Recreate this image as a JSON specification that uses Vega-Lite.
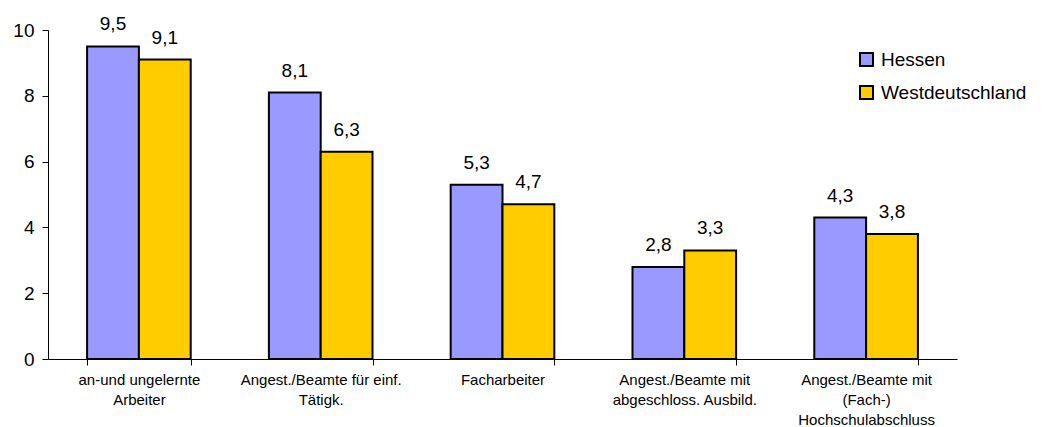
{
  "$schema": "https://vega.github.io/schema/vega-lite/v6.json",
  "width": 909,
  "height": 329,
  "autosize": {"type": "none"},
  "padding": {"left": 48, "top": 30, "right": 87, "bottom": 68},
  "config": {
    "view": {"stroke": null},
    "font": "Liberation Sans",
    "locale": {"number": {"decimal": ",", "thousands": ".", "grouping": [3], "currency": ["", " €"]}}
  },
  "data": {
    "values": [
      {"cat": "an-und ungelernte|Arbeiter", "region": "Hessen", "value": 9.5},
      {"cat": "an-und ungelernte|Arbeiter", "region": "Westdeutschland", "value": 9.1},
      {"cat": "Angest./Beamte für einf.|Tätigk.", "region": "Hessen", "value": 8.1},
      {"cat": "Angest./Beamte für einf.|Tätigk.", "region": "Westdeutschland", "value": 6.3},
      {"cat": "Facharbeiter", "region": "Hessen", "value": 5.3},
      {"cat": "Facharbeiter", "region": "Westdeutschland", "value": 4.7},
      {"cat": "Angest./Beamte mit|abgeschloss. Ausbild.", "region": "Hessen", "value": 2.8},
      {"cat": "Angest./Beamte mit|abgeschloss. Ausbild.", "region": "Westdeutschland", "value": 3.3},
      {"cat": "Angest./Beamte mit|(Fach-)|Hochschulabschluss", "region": "Hessen", "value": 4.3},
      {"cat": "Angest./Beamte mit|(Fach-)|Hochschulabschluss", "region": "Westdeutschland", "value": 3.8}
    ]
  },
  "encoding": {
    "x": {
      "field": "cat", "type": "nominal", "sort": null,
      "scale": {"paddingInner": 0.43, "paddingOuter": 0.215},
      "axis": {
        "title": null, "labelAngle": 0, "labelExpr": "split(datum.label, '|')",
        "labelFontSize": 15, "labelColor": "black", "labelBaseline": "top", "labelLineHeight": 20,
        "labelPadding": 7, "domainColor": "black", "tickColor": "black", "tickBand": "extent",
        "tickSize": 6, "labelLimit": 300
      }
    },
    "xOffset": {"field": "region", "sort": ["Hessen", "Westdeutschland"]},
    "y": {
      "field": "value", "type": "quantitative",
      "scale": {"domain": [0, 10]},
      "axis": {
        "title": null, "values": [0, 2, 4, 6, 8, 10], "grid": false,
        "labelFontSize": 19, "labelColor": "black", "labelPadding": 8,
        "domainColor": "black", "tickColor": "black", "tickSize": 6
      }
    }
  },
  "layer": [
    {
      "mark": {"type": "bar", "stroke": "black", "strokeWidth": 2},
      "encoding": {
        "fill": {
          "field": "region", "type": "nominal",
          "scale": {"domain": ["Hessen", "Westdeutschland"], "range": ["#9999FF", "#FFCC00"]},
          "legend": {
            "title": null, "orient": "none", "legendX": 809, "legendY": 20,
            "symbolType": "square", "symbolSize": 169, "symbolStrokeColor": "black", "symbolStrokeWidth": 2,
            "labelFontSize": 19, "labelColor": "black", "labelOffset": 5, "rowPadding": 12
          }
        }
      }
    },
    {
      "mark": {"type": "text", "dy": -16, "baseline": "alphabetic", "fontSize": 19, "color": "black"},
      "encoding": {"text": {"field": "value", "type": "quantitative", "format": ".1f"}}
    }
  ]
}
